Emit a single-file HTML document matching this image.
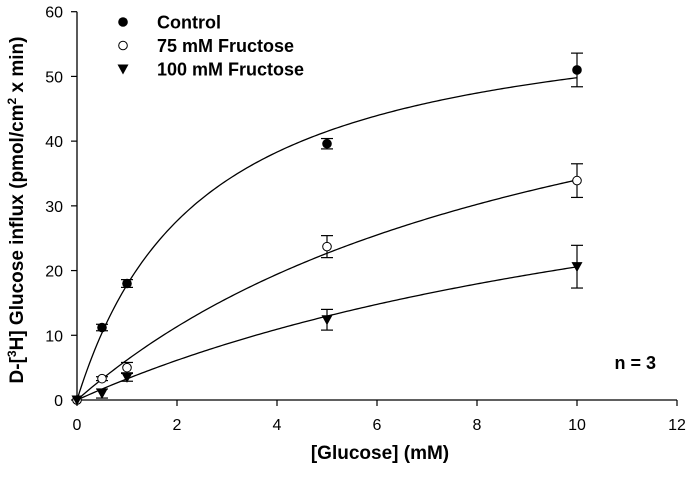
<!DOCTYPE html>
<html><head><meta charset="utf-8"><style>
html,body{margin:0;padding:0;background:#fff;}
svg text{font-family:"Liberation Sans",Arial,sans-serif;fill:#000;}
</style></head><body>
<svg id="chart" width="692" height="472" viewBox="0 0 692 472">
<g id="axes"></g>
<g id="curves"></g>
<g id="points"></g>
<g id="legend"></g>
<text x="23" y="210" transform="rotate(-90 23 210)" text-anchor="middle" font-size="19" font-weight="bold">D-[<tspan font-size="12" dy="-7">3</tspan><tspan dy="7">H] Glucose influx (pmol/cm</tspan><tspan font-size="12" dy="-7">2</tspan><tspan dy="7"> x min)</tspan></text>
<text x="380" y="459" text-anchor="middle" font-size="19" font-weight="bold">[Glucose] (mM)</text>
<text x="656" y="369" text-anchor="end" font-size="18" font-weight="bold">n = 3</text>
</svg>
<script>
const xConc = [0, 0.5, 1, 5, 10];
const controlVals = [0, 11.2, 18, 39.6, 51];
const controlErr = [0, 0.5, 0.6, 0.8, 2.6];
const fruct75Vals = [0, 3.3, 5, 23.7, 33.9];
const fruct75Err = [0, 0.3, 0.8, 1.7, 2.6];
const fruct100Vals = [0, 1, 3.5, 12.4, 20.6];
const fruct100Err = [0, 0.7, 0.6, 1.6, 3.3];
const fitVmax = [62.25, 68, 50];
const fitKm = [2.5, 10, 14.3];
const xTicks = [0, 2, 4, 6, 8, 10, 12];
const yTicks = [0, 10, 20, 30, 40, 50, 60];
const seriesNames = ["Control", "75 mM Fructose", "100 mM Fructose"];

const NS = "http://www.w3.org/2000/svg";
const X0 = 77, XS = 50, Y0 = 400, YS = 388.3 / 60;
const sx = v => X0 + v * XS;
const sy = v => Y0 - v * YS;
function mk(tag, attrs, parent) {
  const e = document.createElementNS(NS, tag);
  for (const k in attrs) e.setAttribute(k, attrs[k]);
  parent.appendChild(e);
  return e;
}
const axes = document.getElementById("axes");
let el = mk("line", {x1: sx(0), y1: sy(0), x2: sx(12), y2: sy(0), stroke: "#000", "stroke-width": 1.3}, axes);


el = mk("line", {x1: sx(0), y1: sy(0), x2: sx(0), y2: sy(60), stroke: "#000", "stroke-width": 1.3}, axes);


xTicks.forEach(t => {
  mk("line", {x1: sx(t), y1: sy(0), x2: sx(t), y2: sy(0) + 6, stroke: "#000", "stroke-width": 1.2}, axes);
  const tx = mk("text", {x: sx(t), y: 430, "text-anchor": "middle", "font-size": 16}, axes);
  tx.textContent = t;
  
  
});
yTicks.forEach(t => {
  mk("line", {x1: sx(0) - 6, y1: sy(t), x2: sx(0), y2: sy(t), stroke: "#000", "stroke-width": 1.2}, axes);
  const tx = mk("text", {x: 63, y: sy(t) + 6, "text-anchor": "end", "font-size": 16}, axes);
  tx.textContent = t;
  
  
});
const curves = document.getElementById("curves");
fitVmax.forEach((V, i) => {
  let d = "";
  for (let k = 0; k <= 200; k++) {
    const x = 10 * k / 200;
    const y = V * x / (fitKm[i] + x);
    d += (k ? "L" : "M") + sx(x).toFixed(2) + "," + sy(y).toFixed(2);
  }
  const p = mk("path", {d: d, fill: "none", stroke: "#000", "stroke-width": 1.3}, curves);
  
  
});
const pts = document.getElementById("points");
function marker(type, cx, cy, parent) {
  if (type === 0) return mk("circle", {cx: cx, cy: cy, r: 4.8, fill: "#000"}, parent);
  if (type === 1) return mk("circle", {cx: cx, cy: cy, r: 4.3, fill: "#fff", stroke: "#000", "stroke-width": 1}, parent);
  return mk("polygon", {points: `${cx - 5.5},${cy - 4.5} ${cx + 5.5},${cy - 4.5} ${cx},${cy + 5.5}`, fill: "#000"}, parent);
}
[[controlVals, controlErr], [fruct75Vals, fruct75Err], [fruct100Vals, fruct100Err]].forEach((s, i) => {
  s[0].forEach((v, j) => {
    const cx = sx(xConc[j]), e = s[1][j];
    if (e > 0) {
      const g = mk("g", {stroke: "#000", "stroke-width": 1.2}, pts);
      mk("line", {x1: cx, y1: sy(v - e), x2: cx, y2: sy(v + e)}, g);
      mk("line", {x1: cx - 6, y1: sy(v - e), x2: cx + 6, y2: sy(v - e)}, g);
      mk("line", {x1: cx - 6, y1: sy(v + e), x2: cx + 6, y2: sy(v + e)}, g);
      
      
    }
    const m = marker(i, cx, sy(v), pts);
    
    
  });
});
const leg = document.getElementById("legend");
seriesNames.forEach((n, i) => {
  const y = 22 + i * 23.5;
  const m = marker(i, 123, y, leg);
  
  
  const t = mk("text", {x: 157, y: y + 6.5, "font-size": 18, "font-weight": "bold"}, leg);
  t.textContent = n;
  
  
});
</script>
</body></html>
